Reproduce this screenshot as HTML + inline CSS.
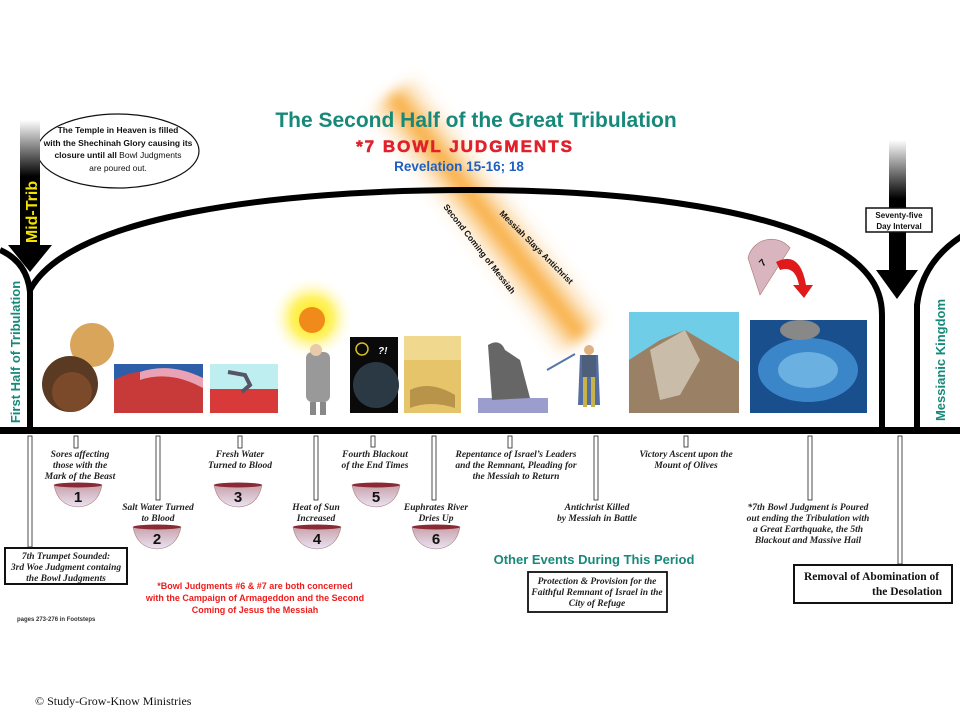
<!DOCTYPE html>
<html><head><meta charset="utf-8"><style>
html,body{margin:0;padding:0;background:#fff;}
svg{display:block;}
.it{font-family:"Liberation Serif",serif;font-style:italic;font-weight:bold;font-size:9.5px;fill:#222;text-anchor:middle;}
.bn{font-family:"Liberation Sans",sans-serif;font-weight:bold;font-size:15px;fill:#111;text-anchor:middle;}
</style></head><body>
<svg width="960" height="720" viewBox="0 0 960 720" xmlns="http://www.w3.org/2000/svg">
<defs>
<linearGradient id="mt" x1="0" y1="0" x2="0" y2="1"><stop offset="0" stop-color="#fff"/><stop offset="0.45" stop-color="#000"/><stop offset="1" stop-color="#000"/></linearGradient>
<linearGradient id="beam" x1="0" y1="0" x2="1" y2="0"><stop offset="0" stop-color="#fff" stop-opacity="0"/><stop offset="0.5" stop-color="#f7a52a"/><stop offset="1" stop-color="#fff" stop-opacity="0"/></linearGradient>
<filter id="bl"><feGaussianBlur stdDeviation="6"/></filter>
<radialGradient id="sun"><stop offset="0" stop-color="#ffe600"/><stop offset="0.5" stop-color="#fff36a"/><stop offset="1" stop-color="#fff" stop-opacity="0"/></radialGradient>
<linearGradient id="bowl" x1="0" y1="0" x2="0" y2="1"><stop offset="0" stop-color="#c9a2ab"/><stop offset="1" stop-color="#e9e3f2"/></linearGradient>
<g id="b"><path d="M-24,-9 Q-20,12 0,13 Q20,12 24,-9 Z" fill="url(#bowl)" stroke="#a77" stroke-width="0.6"/><ellipse cx="0" cy="-9" rx="24" ry="2.5" fill="#8a2a36"/></g>
</defs>
<!-- beam -->
<g transform="translate(490,220) rotate(-38)" filter="url(#bl)"><rect x="-40" y="-160" width="80" height="310" fill="url(#beam)"/></g>
<!-- title -->
<text x="476" y="127" font-family="Liberation Sans,sans-serif" font-weight="bold" font-size="21" fill="#17897a" text-anchor="middle">The Second Half of the Great Tribulation</text>
<text x="465" y="152" font-family="Liberation Sans,sans-serif" font-weight="900" font-size="17" fill="#e0202a" text-anchor="middle" letter-spacing="2" stroke="#e0202a" stroke-width="0.6">*7 BOWL JUDGMENTS</text>
<text x="459" y="171" font-family="Liberation Sans,sans-serif" font-weight="bold" font-size="13.5" fill="#1e5fc0" text-anchor="middle">Revelation 15-16; 18</text>
<!-- ellipse note -->
<ellipse cx="118" cy="151" rx="81" ry="37" fill="#fff" stroke="#111" stroke-width="1.2"/>
<g font-family="Liberation Sans,sans-serif" font-size="8.5" font-weight="bold" fill="#111" text-anchor="middle">
<text x="118" y="133">The Temple in Heaven is  filled</text>
<text x="118" y="146">with the Shechinah Glory causing its</text>
<text x="118" y="158">closure until all <tspan font-weight="normal">Bowl Judgments</tspan></text>
<text x="118" y="171" font-weight="normal">are poured out.</text>
</g>
<!-- arch lines -->
<g fill="none" stroke="#000" stroke-width="6">
<path d="M0,250 Q27,262 30,292 L30,432"/>
<path d="M30,290 C70,215 280,190 470,190 C650,190 820,215 868,275 Q882,292 882,315 L882,432"/>
<path d="M917,432 L917,305 Q922,262 962,236"/>
</g>
<!-- mid-trib arrow -->
<rect x="20" y="120" width="20" height="126" fill="url(#mt)"/>
<polygon points="8,245 52,245 30,272" fill="#000"/>
<text transform="translate(37,212) rotate(-90)" font-family="Liberation Sans,sans-serif" font-weight="bold" font-size="16" fill="#f2e400" text-anchor="middle">Mid-Trib</text>
<text transform="translate(20,352) rotate(-90)" font-family="Liberation Sans,sans-serif" font-weight="bold" font-size="13" fill="#17897a" text-anchor="middle">First Half of Tribulation</text>
<text transform="translate(945,360) rotate(-90)" font-family="Liberation Sans,sans-serif" font-weight="bold" font-size="13" fill="#17897a" text-anchor="middle">Messianic Kingdom</text>
<!-- right arrow -->
<rect x="889" y="140" width="17" height="131" fill="url(#mt)"/>
<polygon points="876,270 918,270 897,299" fill="#000"/>
<rect x="866" y="208" width="66" height="24" fill="#fff" stroke="#111" stroke-width="1.5"/>
<text x="899" y="218" font-family="Liberation Sans,sans-serif" font-size="8" font-weight="bold" fill="#111" text-anchor="middle">Seventy-five</text>
<text x="899" y="229" font-family="Liberation Sans,sans-serif" font-size="8" font-weight="bold" fill="#111" text-anchor="middle">Day Interval</text>
<!-- diagonal labels -->
<text transform="translate(443,207) rotate(52)" font-family="Liberation Sans,sans-serif" font-weight="900" font-size="8.5" fill="#111">Second Coming of Messiah</text>
<text transform="translate(499,214) rotate(45)" font-family="Liberation Sans,sans-serif" font-weight="900" font-size="8.5" fill="#111">Messiah Slays Antichrist</text>
<!-- images -->
<circle cx="92" cy="345" r="22" fill="#d9a55a"/><circle cx="70" cy="384" r="28" fill="#5a3a22"/><circle cx="72" cy="392" r="20" fill="#7a4a2a"/>
<rect x="114" y="364" width="89" height="49" fill="#2c5fa8"/><path d="M114,380 Q150,360 203,385 L203,413 L114,413Z" fill="#c83a3a"/><path d="M140,372 Q170,362 203,378 L203,388 Q170,370 140,380Z" fill="#eaa3b5"/>
<rect x="210" y="364" width="68" height="25" fill="#bfeef0"/><rect x="210" y="389" width="68" height="24" fill="#d83a3a"/><path d="M228,372 L245,375 L250,385 L242,392" stroke="#556" stroke-width="4" fill="none"/>
<circle cx="312" cy="318" r="42" fill="url(#sun)"/><circle cx="312" cy="320" r="13" fill="#f08a1a"/>
<rect x="306" y="352" width="24" height="50" rx="6" fill="#999"/><circle cx="316" cy="350" r="6" fill="#e8c9a8"/><rect x="310" y="402" width="6" height="13" fill="#888"/><rect x="320" y="402" width="6" height="13" fill="#888"/>
<rect x="350" y="337" width="48" height="76" fill="#0a0a0a"/><circle cx="376" cy="385" r="23" fill="#2b3944"/><circle cx="362" cy="349" r="6" fill="none" stroke="#d8c020" stroke-width="1.5"/><text x="378" y="354" font-family="Liberation Sans,sans-serif" font-weight="bold" font-style="italic" font-size="10" fill="#fff">?!</text>
<rect x="404" y="336" width="57" height="77" fill="#e6c46a"/><rect x="404" y="336" width="57" height="24" fill="#f1d88f"/><path d="M410,390 Q430,380 455,395 L455,408 Q430,400 410,408Z" fill="#b8934a"/>
<rect x="478" y="398" width="70" height="15" fill="#9b9ecc"/><path d="M488,345 Q500,338 505,350 L520,360 L530,398 L492,400 Z" fill="#666"/>
<path d="M547,370 L575,354" stroke="#57a" stroke-width="2"/><rect x="582" y="355" width="14" height="22" fill="#d7b43d"/><circle cx="589" cy="350" r="5" fill="#e0b080"/><path d="M580,355 L578,405 L600,405 L598,355Z" fill="#2a4a8a" opacity="0.8"/><rect x="583" y="377" width="4" height="30" fill="#c8b24a"/><rect x="591" y="377" width="4" height="30" fill="#c8b24a"/>
<rect x="629" y="312" width="110" height="101" fill="#6fcde8"/><path d="M629,360 L660,340 L685,330 L710,345 L739,362 L739,413 L629,413Z" fill="#9a8064"/><path d="M650,350 L685,330 L700,360 L680,395 L660,400Z" fill="#c9bca8"/>
<rect x="750" y="320" width="117" height="93" fill="#1a4f8e"/><ellipse cx="808" cy="370" rx="50" ry="32" fill="#3a86c8"/><ellipse cx="808" cy="370" rx="30" ry="18" fill="#6ab0e0"/><ellipse cx="800" cy="330" rx="20" ry="10" fill="#888"/>
<path d="M748,258 A24,24 0 0 1 790,248 L760,295 Z" fill="#d9b5bf" stroke="#a77" stroke-width="0.6"/><text x="763" y="267" font-family="Liberation Sans,sans-serif" font-weight="bold" font-size="10" fill="#111" transform="rotate(-45 763 267)">7</text>
<path d="M776,262 Q800,250 806,285 L813,285 L804,298 L793,285 L799,285 Q795,265 780,270Z" fill="#e01a1a"/>
<!-- timeline -->
<rect x="0" y="427" width="960" height="7" fill="#000"/>
<!-- arrows -->
<g fill="#fff" stroke="#222" stroke-width="0.8">
<rect x="28" y="436" width="4" height="111"/>
<rect x="74" y="436" width="4" height="12"/>
<rect x="156" y="436" width="4" height="64"/>
<rect x="238" y="436" width="4" height="12"/>
<rect x="314" y="436" width="4" height="64"/>
<rect x="371" y="436" width="4" height="11"/>
<rect x="432" y="436" width="4" height="64"/>
<rect x="508" y="436" width="4" height="12"/>
<rect x="594" y="436" width="4" height="64"/>
<rect x="684" y="436" width="4" height="11"/>
<rect x="808" y="436" width="4" height="64"/>
<rect x="898" y="436" width="4" height="128"/>
</g>
<!-- labels -->
<g class="it">
<text x="80" y="457" class="it">Sores affecting</text><text x="80" y="468" class="it">those with the</text><text x="80" y="479" class="it">Mark of the Beast</text>
<text x="158" y="510" class="it">Salt Water Turned</text><text x="158" y="521" class="it">to Blood</text>
<text x="240" y="457" class="it">Fresh Water</text><text x="240" y="468" class="it">Turned to Blood</text>
<text x="316" y="510" class="it">Heat of Sun</text><text x="316" y="521" class="it">Increased</text>
<text x="375" y="457" class="it">Fourth Blackout</text><text x="375" y="468" class="it">of the End Times</text>
<text x="436" y="510" class="it">Euphrates River</text><text x="436" y="521" class="it">Dries Up</text>
<text x="516" y="457" class="it">Repentance of Israel’s Leaders</text><text x="516" y="468" class="it">and the Remnant, Pleading for</text><text x="516" y="479" class="it">the Messiah to Return</text>
<text x="597" y="510" class="it">Antichrist Killed</text><text x="597" y="521" class="it">by Messiah in Battle</text>
<text x="686" y="457" class="it">Victory Ascent upon the</text><text x="686" y="468" class="it">Mount of Olives</text>
<text x="808" y="510" class="it">*7th Bowl Judgment is Poured</text><text x="808" y="521" class="it">out ending the Tribulation with</text><text x="808" y="532" class="it">a Great Earthquake, the 5th</text><text x="808" y="543" class="it">Blackout and Massive Hail</text>
</g>
<!-- bowls -->
<use href="#b" x="78" y="494"/><text x="78" y="502" class="bn">1</text>
<use href="#b" x="157" y="536"/><text x="157" y="544" class="bn">2</text>
<use href="#b" x="238" y="494"/><text x="238" y="502" class="bn">3</text>
<use href="#b" x="317" y="536"/><text x="317" y="544" class="bn">4</text>
<use href="#b" x="376" y="494"/><text x="376" y="502" class="bn">5</text>
<use href="#b" x="436" y="536"/><text x="436" y="544" class="bn">6</text>
<!-- boxes -->
<rect x="5" y="548" width="122" height="36" fill="#fff" stroke="#111" stroke-width="2"/>
<text x="66" y="559" class="it">7th Trumpet Sounded:</text><text x="66" y="570" class="it">3rd Woe Judgment containg</text><text x="66" y="581" class="it">the Bowl Judgments</text>
<g font-family="Liberation Sans,sans-serif" font-weight="bold" font-size="9" fill="#ee1c1c" text-anchor="middle">
<text x="255" y="589">*Bowl Judgments #6 &amp; #7 are both concerned</text>
<text x="255" y="601">with the Campaign of Armageddon and the Second</text>
<text x="255" y="613">Coming of Jesus the Messiah</text>
</g>
<text x="17" y="621" font-family="Liberation Sans,sans-serif" font-weight="bold" font-size="6" fill="#333">pages 273-276 in Footsteps</text>
<text x="594" y="564" font-family="Liberation Sans,sans-serif" font-weight="bold" font-size="13" fill="#17897a" text-anchor="middle">Other Events During This Period</text>
<rect x="528" y="572" width="139" height="40" fill="#fff" stroke="#111" stroke-width="1.8"/>
<text x="597" y="584" class="it">Protection &amp; Provision for the</text><text x="597" y="595" class="it">Faithful Remnant of Israel in the</text><text x="597" y="606" class="it">City of Refuge</text>
<rect x="794" y="565" width="158" height="38" fill="#fff" stroke="#111" stroke-width="2"/>
<g font-family="Liberation Serif,serif" font-weight="bold" font-size="11.5" fill="#111">
<text x="804" y="580">Removal of Abomination of</text>
<text x="942" y="595" text-anchor="end">the Desolation</text>
</g>
<text x="35" y="705" font-family="Liberation Serif,serif" font-size="12" fill="#111">© Study-Grow-Know Ministries</text>
</svg>
</body></html>
